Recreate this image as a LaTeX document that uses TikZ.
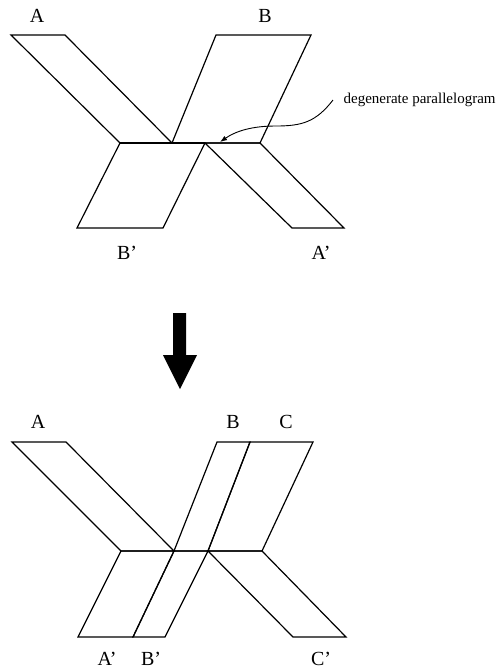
\documentclass[tikz,border=0pt]{standalone}
\usepackage{fontspec}
\setmainfont{Liberation Serif}
\usetikzlibrary{positioning,arrows.meta}

\begin{document}
\begin{tikzpicture}[x=1pt, y=-1pt, line width=1.2pt, line join=miter,
    label/.style={font=\fontsize{20}{22}\selectfont, inner sep=0pt},
    note/.style={font=\fontsize{15}{17}\selectfont, inner xsep=10pt, inner ysep=0pt, anchor=west},
    pointer/.style={line width=0.9pt, -{Latex[length=7pt, width=5pt]}}]
  \useasboundingbox (0,0) rectangle (497,670);

  % Before: two crossing strips
  \draw (11,35) -- (65,35) -- (172,143) -- (120,143) -- cycle;
  \draw (216,35) -- (311,35) -- (260,143) -- (172,143) -- cycle;
  \draw (120,143) -- (205,143) -- (163,228) -- (77,228) -- cycle;
  \draw (205,143) -- (260,143) -- (344,228) -- (292,228) -- cycle;
  \draw[line width=2.2pt] (120,143) -- (205,143);

  \node[label] (a1) at (37,16) {A};
  \node[label] (b1) at (265,16) {B};
  \node[label] (b1p) at (127,253) {B'};
  \node[label] (a1p) at (321,253) {A'};

  % Annotation
  \node[note] (degen) at (333,100) {degenerate parallelogram};
  \coordinate (dtip) at (220,142);
  \draw[pointer] (degen.west) .. controls (316,122) and (302,126) .. (276,126)
    .. controls (252,126) and (236,131) .. (dtip);

  % Big arrow
  \fill (173,313) -- (186,313) -- (186,355) -- (197,355) -- (180,389)
    -- (163,355) -- (173,355) -- cycle;

  % After: three strips
  \draw (12,442) -- (66,442) -- (174,551) -- (121,551) -- cycle;
  \draw (217,442) -- (250,442) -- (208,551) -- (174,551) -- cycle;
  \draw (250,442) -- (313,442) -- (262,551) -- (208,551) -- cycle;
  \draw (121,551) -- (174,551) -- (133,637) -- (78,637) -- cycle;
  \draw (174,551) -- (208,551) -- (165,637) -- (133,637) -- cycle;
  \draw (208,551) -- (262,551) -- (346,637) -- (293,637) -- cycle;

  \node[label] (a2) at (38,422) {A};
  \node[label] (b2) at (233,422) {B};
  \node[label] (c2) at (286,422) {C};
  \node[label] (a2p) at (107,659) {A'};
  \node[label] (b2p) at (151,659) {B'};
  \node[label] (c2p) at (321,659) {C'};
\end{tikzpicture}
\end{document}
